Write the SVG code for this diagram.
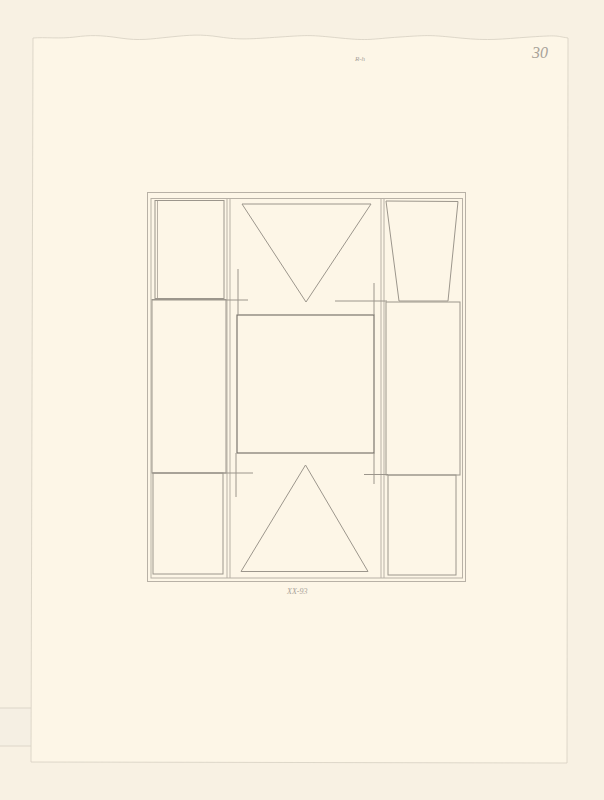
<svg xmlns="http://www.w3.org/2000/svg" width="604" height="800" viewBox="0 0 604 800">
<style>
.l{fill:none;stroke:#9c968c;stroke-width:1}
.f{fill:none;stroke:#b8b1a6;stroke-width:1}
.d{fill:none;stroke:#6f6a63;stroke-width:1.1}
.t{font-family:"Liberation Serif",serif;fill:#a8a299;font-style:italic}
</style>
<rect width="604" height="800" fill="#f8f1e3"/>
<rect x="0" y="708" width="31" height="38" fill="#f5efe3"/>
<line x1="0" y1="708" x2="31" y2="708" stroke="#ddd6c9"/>
<line x1="0" y1="746" x2="31" y2="746" stroke="#ddd6c9"/>
<path d="M33,38 C45,37 60,39 75,37 S100,35 120,38 S150,39 170,37 S200,34 220,37 S250,39 280,37 S310,35 340,38 S370,39 400,37 S430,35 460,38 S500,39 530,37 S555,36 568,38 L567,763 L31,762 Z" fill="#fdf6e7" stroke="#d6cfc2" stroke-width="0.8"/>
<g id="frame">
<rect class="f" x="147.5" y="192.5" width="318" height="389"/>
<rect class="f" x="151" y="198.5" width="311.5" height="379.5"/>
<line class="f" x1="227" y1="199" x2="227" y2="578"/>
<line class="f" x1="230" y1="199" x2="230" y2="578"/>
<line class="f" x1="381" y1="199" x2="381" y2="578"/>
<line class="f" x1="384" y1="199" x2="384" y2="578"/>
</g>
<g id="left-top">
<rect class="l" x="155" y="200.5" width="69" height="98"/>
<line class="f" x1="157.5" y1="201" x2="157.5" y2="298"/>
</g>
<g id="left-middle">
<rect class="l" x="152" y="299.5" width="74" height="173.5"/>
</g>
<g id="left-bottom">
<rect class="l" x="153" y="473" width="70" height="101"/>
</g>
<g id="top-triangle">
<polygon class="l" points="242,204 371,204 306,302"/>
</g>
<g id="bottom-triangle">
<polygon class="l" points="241,571.5 368,571.5 305.5,465"/>
</g>
<g id="center-square">
<rect class="d" x="237" y="315" width="137" height="138"/>
</g>
<g id="right-top">
<polygon class="l" points="386,201 458,201.5 448,301 399,301"/>
</g>
<g id="right-middle">
<rect class="l" x="386" y="302" width="74" height="173"/>
</g>
<g id="right-bottom">
<rect class="l" x="388" y="475" width="68" height="100"/>
</g>
<g id="marks">
<line class="l" x1="152" y1="300" x2="248" y2="300"/>
<line class="l" x1="238" y1="269" x2="238" y2="315"/>
<line class="l" x1="335" y1="301" x2="387" y2="301"/>
<line class="l" x1="374" y1="283" x2="374" y2="315"/>
<line class="l" x1="152" y1="473" x2="253" y2="473"/>
<line class="l" x1="236" y1="453" x2="236" y2="497"/>
<line class="l" x1="364" y1="474.5" x2="388" y2="474.5"/>
<line class="l" x1="374" y1="453" x2="374" y2="484"/>
</g>
<text class="t" x="532" y="58" font-size="16" fill="#8f897f">30</text>
<text class="t" x="355" y="61" font-size="7">R-h</text>
<text class="t" x="287" y="594" font-size="8">XX-93</text>
</svg>
